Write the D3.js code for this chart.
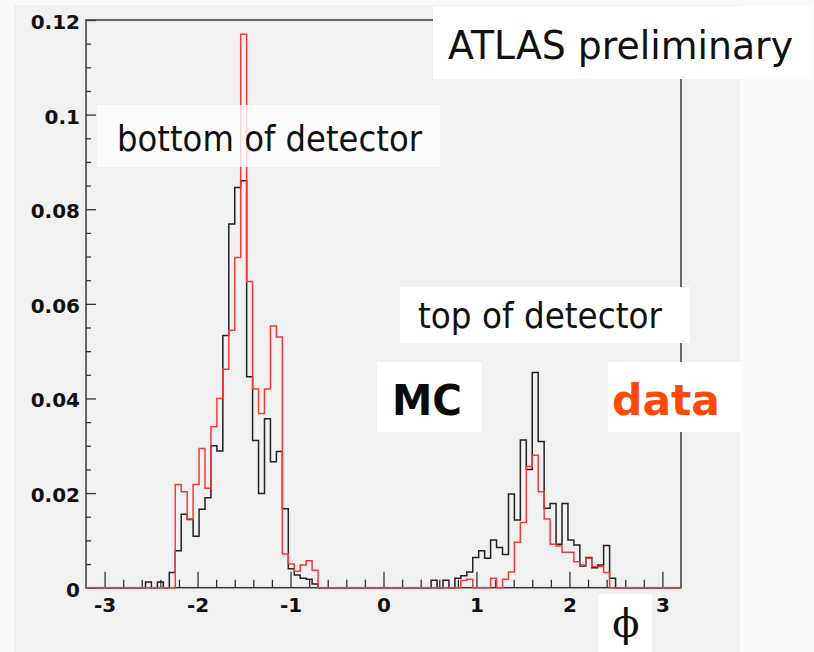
<!DOCTYPE html>
<html>
<head>
<meta charset="utf-8">
<script src="https://cdn.jsdelivr.net/npm/d3@7"></script>
<style>
  body { margin: 0; background: #fafafa; }
  svg { display: block; }
</style>
</head>
<body>
<svg id="chart" width="814" height="652"></svg>
<script>
const mcValues = [
  0, 0, 0, 0, 0, 0, 0, 0, 0, 0,
  0.0012, 0, 0.0012, 0, 0.0032, 0.0078, 0.0155, 0.0144, 0.0109, 0.0166,
  0.0190, 0.0300, 0.0289, 0.0533, 0.0769, 0.0846, 0.0860, 0.0446, 0.0311, 0.0199,
  0.0357, 0.0266, 0.0288, 0.0167, 0.0040, 0.0027, 0.0020, 0.0018, 0.0008, 0,
  0, 0, 0, 0, 0, 0, 0, 0, 0, 0,
  0, 0, 0, 0, 0, 0, 0, 0, 0.0016, 0,
  0.0016, 0, 0.0020, 0.0025, 0.0033, 0.0064, 0.0078, 0.0062, 0.0101, 0.0085,
  0.0070, 0.0198, 0.0143, 0.0312, 0.0250, 0.0455, 0.0309, 0.0168, 0.0178, 0.0092,
  0.0178, 0.0101, 0.0090, 0.0046, 0.0064, 0.0042, 0.0048, 0.0089, 0.0020, 0,
  0, 0, 0, 0, 0, 0, 0, 0, 0, 0
];
const dataValues = [
  0, 0, 0, 0, 0, 0, 0, 0, 0, 0,
  0, 0, 0, 0, 0, 0.0218, 0.0203, 0.0145, 0.0218, 0.0294,
  0.0210, 0.0340, 0.0400, 0.0462, 0.0544, 0.0698, 0.1170, 0.0647, 0.0420, 0.0368,
  0.0420, 0.0553, 0.0530, 0.0071, 0.0050, 0.0035, 0.0048, 0.0057, 0.0037, 0,
  0, 0, 0, 0, 0, 0, 0, 0, 0, 0,
  0, 0, 0, 0, 0, 0, 0, 0, 0, 0,
  0, 0, 0, 0.0015, 0.0018, 0, 0, 0, 0.0020, 0,
  0.0018, 0.0033, 0.0096, 0.0138, 0.0256, 0.0280, 0.0203, 0.0145, 0.0092, 0.0088,
  0.0075, 0.0075, 0.0055, 0.0048, 0.0062, 0.0045, 0.0045, 0.0032, 0, 0,
  0, 0, 0, 0, 0, 0, 0, 0, 0, 0
];
const xTickValues = [-3, -2, -1, 0, 1, 2, 3];
const xTickLabels = ["-3", "-2", "-1", "0", "1", "2", "3"];
const yTickValues = [0, 0.02, 0.04, 0.06, 0.08, 0.1, 0.12];
const yTickLabels = ["0", "0.02", "0.04", "0.06", "0.08", "0.1", "0.12"];
const xDomain = [-3.2, 3.2];
const yDomain = [0, 0.12];

const svg = d3.select("#chart");
const x = d3.scaleLinear().domain(xDomain).range([86, 681]);
const y = d3.scaleLinear().domain(yDomain).range([587.7, 20]);

// grey slide background
svg.append("rect").attr("x", 14).attr("y", 5).attr("width", 726).attr("height", 647).attr("fill", "#f1f1f1");

// y axis: major + minor ticks pointing inside
const yAxis = svg.append("g").attr("transform", `translate(${x.range()[0]},0)`)
    .call(d3.axisLeft(y).tickValues(yTickValues).tickSizeInner(-10).tickSizeOuter(0).tickPadding(6)
        .tickFormat((d, i) => yTickLabels[i]));
yAxis.select(".domain").remove();
yAxis.selectAll("text").attr("font-family", "DejaVu Sans").attr("font-weight", "bold")
    .attr("font-size", 20).attr("fill", "#111").attr("dy", "0.42em");
svg.append("g").attr("transform", `translate(${x.range()[0]},0)`)
    .call(d3.axisLeft(y).tickValues(d3.range(0.005, 0.12, 0.005).filter(v => Math.abs(v / 0.02 - Math.round(v / 0.02)) > 0.01))
        .tickSizeInner(-5).tickSizeOuter(0).tickFormat(""))
    .select(".domain").remove();

// x axis
const xAxis = svg.append("g").attr("transform", `translate(0,${y(0)})`)
    .call(d3.axisBottom(x).tickValues(xTickValues).tickSizeInner(-16).tickSizeOuter(0).tickPadding(10)
        .tickFormat((d, i) => xTickLabels[i]));
xAxis.select(".domain").remove();
xAxis.selectAll("text").attr("font-family", "DejaVu Sans").attr("font-weight", "bold")
    .attr("font-size", 20).attr("fill", "#111");
svg.append("g").attr("transform", `translate(0,${y(0)})`)
    .call(d3.axisBottom(x).tickValues(d3.range(-3, 3.2, 0.2).filter(v => Math.abs(v - Math.round(v)) > 0.01))
        .tickSizeInner(-8).tickSizeOuter(0).tickFormat(""))
    .select(".domain").remove();

svg.selectAll(".tick line").attr("stroke", "#333").attr("stroke-width", 1.3);

// frame
svg.append("rect")
    .attr("x", x.range()[0]).attr("y", y.range()[1])
    .attr("width", x.range()[1] - x.range()[0]).attr("height", y.range()[0] - y.range()[1])
    .attr("fill", "none").attr("stroke", "#3a3a3a").attr("stroke-width", 1.5);

// histograms
function histPoints(values) {
    const w = (xDomain[1] - xDomain[0]) / values.length;
    const pts = [[xDomain[0], 0]];
    values.forEach((v, i) => pts.push([xDomain[0] + i * w, v]));
    pts.push([xDomain[1], 0]);
    return pts;
}
const line = d3.line().x(d => x(d[0])).y(d => y(d[1])).curve(d3.curveStepAfter);

svg.append("path").attr("d", line(histPoints(mcValues)))
    .attr("fill", "none").attr("stroke", "#222").attr("stroke-width", 1.5);
svg.append("path").attr("d", line(histPoints(dataValues)))
    .attr("fill", "none").attr("stroke", "#f23a3a").attr("stroke-width", 1.5);

// label boxes
const boxes = [
    {x: 97, y: 105, w: 343, h: 62, op: 0.78},
    {x: 400, y: 287, w: 290, h: 56, op: 1},
    {x: 377, y: 362, w: 105, h: 70, op: 1},
    {x: 608, y: 362, w: 135, h: 70, op: 1},
    {x: 433, y: 6, w: 379, h: 73, op: 1},
    {x: 598, y: 594, w: 54, h: 58, op: 1}
];
svg.selectAll(".box").data(boxes).join("rect").attr("class", "box")
    .attr("x", d => d.x).attr("y", d => d.y).attr("width", d => d.w).attr("height", d => d.h)
    .attr("fill", "#fff").attr("fill-opacity", d => d.op);

const labels = [
    {t: "bottom of detector", x: 117, y: 151, size: 35, len: 305, weight: "normal", color: "#111"},
    {t: "top of detector", x: 418, y: 328, size: 35, len: 244, weight: "normal", color: "#111"},
    {t: "MC", x: 392, y: 415, size: 43, len: 70, weight: "bold", color: "#0a0a0a"},
    {t: "data", x: 612, y: 415, size: 42, len: 108, weight: "bold", color: "#ff4a0a"},
    {t: "ATLAS preliminary", x: 448, y: 59, size: 39, len: 345, weight: "normal", color: "#111"}
];
svg.selectAll(".lbl").data(labels).join("text").attr("class", "lbl")
    .attr("x", d => d.x).attr("y", d => d.y)
    .attr("font-family", "DejaVu Sans").attr("font-size", d => d.size).attr("font-weight", d => d.weight)
    .attr("fill", d => d.color)
    .attr("textLength", d => d.len).attr("lengthAdjust", "spacingAndGlyphs")
    .text(d => d.t);

svg.append("text").attr("x", 626).attr("y", 637).attr("text-anchor", "middle")
    .attr("font-family", "DejaVu Serif").attr("font-size", 40).attr("fill", "#111")
    .text("ϕ");
</script>
</body>
</html>
